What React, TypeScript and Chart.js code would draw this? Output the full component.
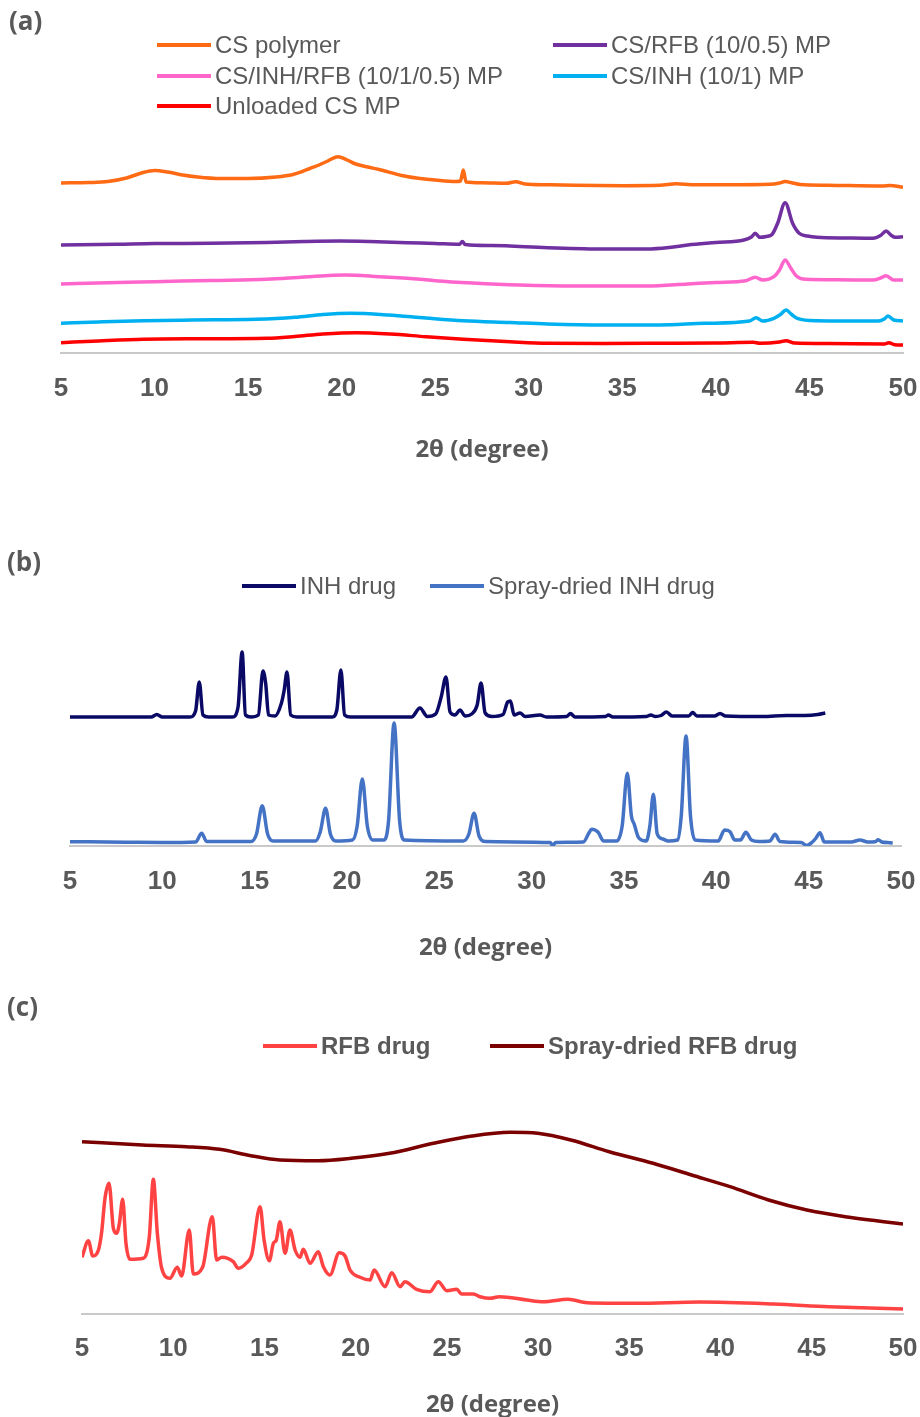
import React, { useEffect, useRef } from "react";
import { Chart, registerables } from "chart.js";

Chart.register(...registerables);

type Pt = [number, number];

// ---------- shared axis ----------
const xTickValues = [5, 10, 15, 20, 25, 30, 35, 40, 45, 50];
const xTitle = "2θ (degree)";

// ---------- (a) chitosan samples ----------
const csPolymer: Pt[] = [
  [5, 170], [6.5, 170.5], [7.5, 171.5], [8.5, 175], [9.3, 180], [10, 182.5], [10.7, 181], [11.5, 178],
  [12.3, 176], [13.5, 174.5], [15, 174.5], [16.5, 176], [17.4, 178.5], [17.9, 181.5], [18.3, 184.5],
  [18.65, 187], [19.2, 191.5], [19.8, 196.3], [20.3, 193], [20.75, 189], [21.4, 186], [22, 183.5],
  [23.2, 177.5], [24, 175], [25, 173], [26.1, 171.5], [26.35, 172], [26.5, 183], [26.65, 171],
  [27.5, 170.2], [28.8, 169.7], [29.3, 171.3], [29.8, 169], [31, 168.2], [32.5, 167.7], [35, 167.3],
  [37, 167.7], [37.9, 169.3], [38.7, 168.3], [40.5, 168.2], [42.9, 168.7], [43.4, 170], [43.7, 171.5],
  [44.1, 170], [44.5, 168.5], [46, 167.8], [48.9, 167], [49.3, 167.5], [50, 165.7],
];
const csRfbMp: Pt[] = [
  [5, 108], [8, 108.8], [10, 109.5], [13, 109.7], [16, 110.5], [18, 111.5], [19.9, 112], [21.5, 111.5],
  [23.5, 110.3], [25, 109.5], [26.3, 108.7], [26.45, 111.5], [26.6, 108.5], [28, 107.5], [31, 105.3],
  [34, 104], [36.3, 104], [37.5, 105.5], [38.5, 108], [40, 110.5], [41.5, 113], [41.9, 116], [42.1, 119.7],
  [42.35, 115.7], [42.7, 116.5], [43, 118.5], [43.3, 129.7], [43.7, 150.3], [44.1, 129.7], [44.45, 119.7],
  [44.9, 117], [45.4, 115.7], [47, 115], [48.4, 114.7], [48.8, 117.5], [49.1, 122], [49.35, 118],
  [49.6, 115.7], [50, 116.3],
];
const csInhRfbMp: Pt[] = [
  [5, 69], [7.5, 70.3], [10, 71.3], [13, 72.5], [16, 73.7], [18, 76], [20.2, 78], [22, 76.3], [24, 74],
  [25, 72.3], [27, 70], [29.5, 68], [32.5, 67], [36.3, 67], [38.5, 69], [40, 70.5], [41.6, 72.3],
  [42.1, 75.7], [42.5, 73], [43.1, 76.3], [43.4, 83], [43.7, 93], [44, 85], [44.3, 77], [44.8, 73.7],
  [46.5, 73.2], [48.4, 73], [48.8, 75], [49.1, 77.3], [49.5, 73], [50, 73],
];
const csInhMp: Pt[] = [
  [5, 29.7], [7, 31], [9.4, 32.3], [12, 33], [15.4, 33.7], [17.5, 35.7], [19, 38.5], [20.5, 39.7],
  [22.5, 38], [24.5, 35], [26.5, 32.3], [29, 30.5], [31, 29], [34, 28], [37, 28], [39.4, 29.7], [41.8, 32],
  [42.15, 35.3], [42.5, 32], [43.1, 34.7], [43.45, 38.5], [43.75, 43], [44.05, 38.5], [44.35, 34.7],
  [45.4, 32.3], [48.7, 32], [49, 34], [49.2, 37], [49.5, 33], [50, 32],
];
const unloadedCsMp: Pt[] = [
  [5, 10.3], [7, 12], [9.4, 13.7], [12, 14.2], [16, 14.7], [17.5, 16.5], [19, 19], [20.8, 20.3],
  [22.6, 19], [24.5, 16.3], [26.5, 13.7], [29, 11.2], [31, 9.7], [34, 9.5], [37, 9.7], [40, 10], [42, 10.7],
  [42.35, 9.7], [43.4, 11], [43.75, 12.3], [44.2, 10], [46, 9.5], [49, 9], [49.25, 10.3], [49.55, 8.3], [50, 8],
];

// ---------- (b) INH ----------
const inhDrug: Pt[] = [
  [5, 129], [9.4, 129], [9.7, 131.5], [10, 129], [11.5, 129], [11.8, 135], [12, 164], [12.2, 131], [12.5, 129],
  [13.8, 129], [14.1, 139], [14.32, 194], [14.5, 131], [14.8, 129], [15.2, 131], [15.45, 175], [15.6, 162],
  [15.75, 131], [16.1, 130], [16.45, 143], [16.6, 156], [16.75, 174], [16.95, 131], [17.3, 129], [19.2, 129],
  [19.45, 136], [19.67, 176], [19.87, 131], [20.2, 129], [23.5, 129], [23.95, 138], [24.35, 129.5], [24.8, 132],
  [25.1, 149], [25.36, 169], [25.58, 134], [25.85, 131], [26.12, 136], [26.4, 130], [26.75, 132], [27.05, 141],
  [27.26, 163], [27.48, 133], [27.85, 129.5], [28.45, 131.5], [28.7, 144], [28.85, 145], [29.05, 131],
  [29.37, 133], [29.65, 129.5], [30.45, 131], [30.8, 129], [31.9, 129.5], [32.1, 132.5], [32.35, 129],
  [34, 129.5], [34.15, 131], [34.4, 129], [36.2, 129.5], [36.45, 131], [36.7, 129.5], [37, 130.5], [37.3, 134],
  [37.6, 130], [38.5, 130], [38.72, 133.5], [38.95, 130], [39.9, 130], [40.2, 132.5], [40.5, 130], [42.5, 129.5],
  [43.8, 130.5], [44.8, 130.5], [45.5, 131.5], [45.9, 133],
];
const sprayDriedInh: Pt[] = [
  [5, 4.3], [8, 3.8], [10, 3.5], [11.8, 4], [12.13, 12.7], [12.4, 4.5], [14.8, 4.5], [15.1, 12], [15.41, 40.3],
  [15.7, 12], [16, 5], [18.3, 5], [18.55, 14], [18.84, 37.7], [19.1, 12], [19.4, 5], [20.3, 6], [20.55, 20],
  [20.83, 67], [21.1, 20], [21.4, 6], [22, 6], [22.25, 25], [22.55, 123], [22.85, 25], [23.1, 6], [26.3, 5],
  [26.6, 12], [26.88, 32.7], [27.15, 10], [27.5, 4.5], [31, 3.5], [31.14, 0.5], [31.3, 3.5], [32.8, 4],
  [33.1, 13], [33.25, 16.7], [33.6, 13.7], [33.9, 5], [34.6, 5], [34.9, 20], [35.18, 72.7], [35.4, 30],
  [35.55, 22], [35.8, 8], [36.2, 5], [36.4, 20], [36.59, 51.7], [36.8, 12], [37.1, 7], [37.4, 5], [37.9, 6],
  [38.1, 30], [38.36, 110], [38.6, 30], [38.85, 6], [40.1, 5], [40.45, 16], [40.74, 14.3], [41, 6], [41.3, 6],
  [41.6, 13.7], [41.9, 6], [42.3, 4.5], [42.9, 5], [43.18, 11.7], [43.45, 4.5], [44.6, 3.5], [44.89, 0.5],
  [45.2, 4], [45.4, 8], [45.61, 13.3], [45.85, 4], [47.3, 4], [47.78, 6], [48.2, 4], [48.6, 4.3], [48.77, 6.3],
  [48.95, 4], [49.4, 3.3], [49.55, 3],
];

// ---------- (c) RFB ----------
const rfbDrug: Pt[] = [
  [5, 56.7], [5.35, 73.3], [5.59, 58], [5.9, 64], [6.08, 82.3], [6.26, 115.7], [6.48, 130.7], [6.72, 85.7],
  [6.9, 80.7], [7.05, 90.7], [7.23, 114.7], [7.41, 70.7], [7.63, 54.7], [8.36, 55.7], [8.69, 77.3],
  [8.91, 134.7], [9.13, 80.7], [9.37, 45.7], [9.82, 35.7], [10.22, 46.7], [10.46, 38], [10.88, 84], [11.1, 40],
  [11.61, 46.7], [12.14, 97.3], [12.38, 54], [12.66, 56.7], [13.29, 52.3], [13.57, 45.7], [14.03, 51.3],
  [14.3, 59], [14.76, 107.3], [14.98, 74], [15.27, 53.3], [15.49, 70.7], [15.65, 74], [15.85, 92.3],
  [16.13, 60.7], [16.4, 84], [16.68, 64], [16.95, 56.7], [17.13, 64.7], [17.5, 50.7], [17.95, 62.3],
  [18.23, 47.3], [18.59, 39], [19.1, 61.3], [19.42, 58], [19.69, 44], [20.24, 36.7], [20.79, 34], [21.01, 44],
  [21.61, 27.3], [21.98, 41.3], [22.43, 27.3], [22.7, 32.3], [23.34, 24.7], [24.07, 22.3], [24.53, 32.3],
  [24.99, 23.3], [25.54, 24.7], [25.81, 20], [26.45, 20], [26.82, 17.3], [27.36, 15.7], [27.88, 17.3],
  [29.38, 14], [30.28, 12.3], [31.64, 14.7], [32.69, 11.3], [35.4, 10.7], [38.86, 12], [42.93, 10],
  [45.94, 7.3], [50, 5],
];
const sprayDriedRfb: Pt[] = [
  [5, 172.3], [8.31, 169], [10.72, 167.3], [12.53, 164.7], [14.33, 158], [15.84, 154], [17.94, 153.3],
  [19.75, 155.7], [21.86, 160.7], [24.26, 170.7], [26.37, 178], [28.48, 181.7], [29.98, 180.7], [31.79, 174],
  [33.9, 162.3], [36.3, 150.7], [38.41, 139], [40.52, 127.3], [42.63, 114], [44.73, 104], [46.84, 97.3],
  [48.95, 92.3], [50, 90],
];

// ---------- style ----------
const TEXT = "#595959";
const AXIS_LINE = "#c9c9c9";

const overlayPlugin = {
  id: "overlay",
  afterDraw(chart: any, _args: any, opts: any) {
    const ctx = chart.ctx as CanvasRenderingContext2D;
    ctx.save();
    ctx.textBaseline = "middle";
    ctx.textAlign = "left";
    ctx.fillStyle = TEXT;
    ctx.font = 'bold 26px "Open Sans", "Liberation Sans", sans-serif';
    ctx.fillText(opts.panel.text, opts.panel.x, opts.panel.y);
    ctx.font = (opts.bold ? "bold " : "") + '24px "Liberation Sans", Arial, sans-serif';
    chart.data.datasets.forEach((ds: any, i: number) => {
      const p = opts.positions[i];
      ctx.strokeStyle = ds.borderColor;
      ctx.lineWidth = 4;
      ctx.lineCap = "butt";
      ctx.beginPath();
      ctx.moveTo(p.x, p.y);
      ctx.lineTo(p.x + 54, p.y);
      ctx.stroke();
      ctx.fillStyle = TEXT;
      ctx.fillText(ds.label, p.x + 58, p.y + 1);
    });
    ctx.restore();
  },
};

interface SeriesSpec { label: string; color: string; data: Pt[] }
interface PanelSpec {
  top: number;
  height: number;
  padLeft: number;
  padRight: number;
  padTop: number;
  axisHeight: number;
  tickPad: number;
  titlePadBottom: number;
  series: SeriesSpec[];
  panel: { text: string; x: number; y: number };
  positions: { x: number; y: number }[];
  boldLegend: boolean;
}

function XrdPanel({ spec }: { spec: PanelSpec }) {
  const ref = useRef<HTMLCanvasElement | null>(null);
  useEffect(() => {
    if (!ref.current) return;
    const chart = new Chart(ref.current, {
      type: "line",
      data: {
        datasets: spec.series.map((s) => ({
          label: s.label,
          data: s.data.map(([x, y]) => ({ x, y })),
          borderColor: s.color,
          backgroundColor: s.color,
          borderWidth: 3.5,
          pointRadius: 0,
          cubicInterpolationMode: "monotone" as const,
          fill: false,
        })),
      },
      options: {
        responsive: false,
        animation: false,
        devicePixelRatio: 1,
        layout: { padding: { left: spec.padLeft, right: spec.padRight, top: spec.padTop, bottom: 0 } },
        plugins: {
          legend: { display: false },
          tooltip: { enabled: false },
          overlay: { panel: spec.panel, positions: spec.positions, bold: spec.boldLegend },
        } as any,
        scales: {
          x: {
            type: "linear",
            min: 5,
            max: 50,
            afterBuildTicks: (axis: any) => {
              axis.ticks = xTickValues.map((v) => ({ value: v }));
            },
            afterFit: (axis: any) => {
              axis.height = spec.axisHeight;
              axis.paddingLeft = 0;
              axis.paddingRight = 0;
            },
            grid: { display: false, drawTicks: false },
            border: { display: true, color: AXIS_LINE, width: 2 },
            ticks: {
              padding: spec.tickPad,
              color: TEXT,
              autoSkip: false,
              maxRotation: 0,
              font: { family: '"Liberation Sans", Arial, sans-serif', size: 26, weight: "bold" },
            },
            title: {
              display: true,
              text: xTitle,
              color: TEXT,
              padding: { top: 0, bottom: spec.titlePadBottom },
              font: { family: '"Open Sans", sans-serif', size: 24, weight: "bold", lineHeight: 1 },
            },
          },
          y: { type: "linear", display: false, min: 0, max: 220 },
        },
      },
      plugins: [overlayPlugin],
    } as any);
    return () => chart.destroy();
  }, [spec]);
  return (
    <canvas
      ref={ref}
      width={920}
      height={spec.height}
      style={{ position: "absolute", left: 0, top: spec.top, width: 920, height: spec.height }}
    />
  );
}

const panelA: PanelSpec = {
  top: 0,
  height: 480,
  padLeft: 61,
  padRight: 17,
  padTop: 133,
  axisHeight: 127,
  tickPad: 20,
  titlePadBottom: 18,
  series: [
    { label: "CS polymer", color: "#FF6A14", data: csPolymer },
    { label: "CS/RFB (10/0.5) MP", color: "#7030A0", data: csRfbMp },
    { label: "CS/INH/RFB (10/1/0.5) MP", color: "#FF66CC", data: csInhRfbMp },
    { label: "CS/INH (10/1) MP", color: "#00B0F0", data: csInhMp },
    { label: "Unloaded CS MP", color: "#FF0000", data: unloadedCsMp },
  ],
  panel: { text: "(a)", x: 9, y: 23 },
  positions: [
    { x: 157, y: 45 },
    { x: 553, y: 45 },
    { x: 157, y: 76 },
    { x: 553, y: 76 },
    { x: 157, y: 106 },
  ],
  boldLegend: false,
};

const panelB: PanelSpec = {
  top: 490,
  height: 485,
  padLeft: 70,
  padRight: 19,
  padTop: 136,
  axisHeight: 129,
  tickPad: 20,
  titlePadBottom: 15,
  series: [
    { label: "INH drug", color: "#0A0A66", data: inhDrug },
    { label: "Spray-dried INH drug", color: "#4472C4", data: sprayDriedInh },
  ],
  panel: { text: "(b)", x: 7, y: 74 },
  positions: [
    { x: 242, y: 96 },
    { x: 430, y: 96 },
  ],
  boldLegend: false,
};

const panelC: PanelSpec = {
  top: 990,
  height: 427,
  padLeft: 82,
  padRight: 17,
  padTop: 104,
  axisHeight: 103,
  tickPad: 19,
  titlePadBottom: 0,
  series: [
    { label: "RFB drug", color: "#FF4343", data: rfbDrug },
    { label: "Spray-dried RFB drug", color: "#7B0000", data: sprayDriedRfb },
  ],
  panel: { text: "(c)", x: 7, y: 19 },
  positions: [
    { x: 263, y: 56 },
    { x: 490, y: 56 },
  ],
  boldLegend: true,
};

export default function App() {
  return (
    <div style={{ position: "absolute", left: 0, top: 0, width: 920, height: 1417, background: "#fff" }}>
      <XrdPanel spec={panelA} />
      <XrdPanel spec={panelB} />
      <XrdPanel spec={panelC} />
    </div>
  );
}
